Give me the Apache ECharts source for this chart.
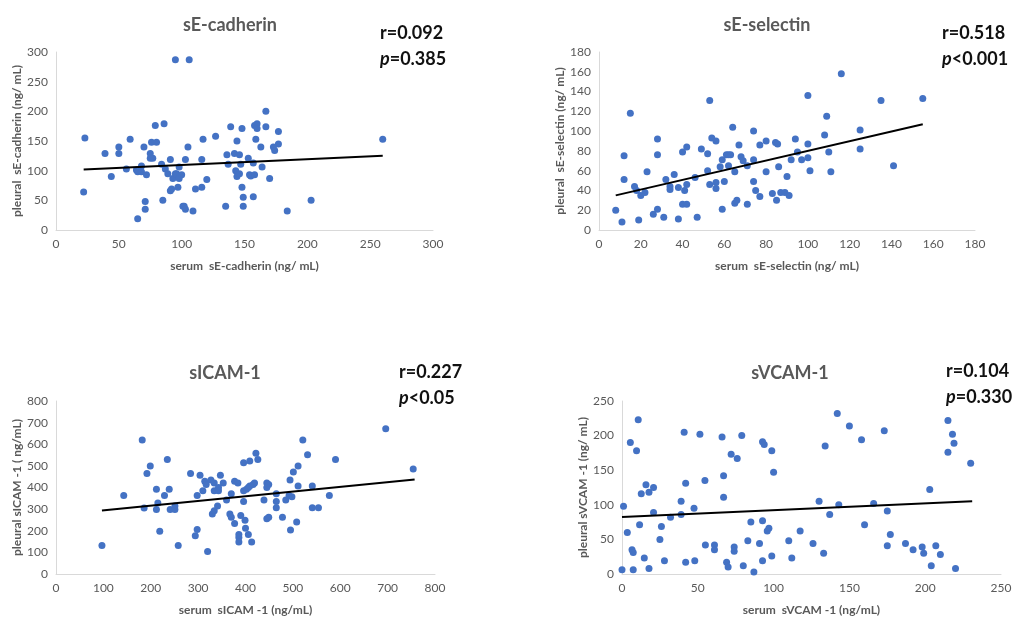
<!DOCTYPE html>
<html>
<head>
<meta charset="utf-8">
<style>
  html, body { margin: 0; padding: 0; background: #fff; }
  #chart { width: 1015px; height: 617px; }
</style>
<script src="https://cdn.jsdelivr.net/npm/echarts@6/dist/echarts.min.js"></script>
</head>
<body>
<div id="chart"></div>
<script>
// sE-cadherin (serum x, pleural y)
const cadherinSerum = [22,23,39,44,50,50,56,59,64,65,65,68,68,70,71,71,72,75,75,77,76,80,79,86,84,85,87,89,91,91,92,93,95,95,96,97,98,98,100,101,102,103,103,105,106,109,111,116,116,117,120,127,135,136,137,139,142,143,144,144,146,146,147,148,148,149,149,167,158,160,160,167,177,177,173,174,159,163,153,157,164,154,155,158,170,157,184,203,260]
const cadherinPleural = [64,155,129,90,140,129,103,153,101,98,19,108,98,140,48,35,93,129,121,121,148,148,176,179,111,50,103,95,119,66,69,87,287,95,95,72,106,87,93,40,40,35,119,140,287,32,69,119,72,153,85,158,40,127,111,174,129,100,150,90,127,95,111,171,72,55,40,200,176,179,171,174,166,145,140,134,153,140,121,113,106,93,91,93,87,56,32,50,153]
const cadherinTrend = [[22,102],[260,125]]

// sE-selectin
const selectinSerum = [8,11,12,12,15,17,18,19,20,22,23,26,28,28,28,31,32,34,34,36,38,38,40,40,42,41,42,42,46,47,49,52,52,53,53,54,56,56,56,58,59,59,60,61,62,63,62,64,65,65,66,67,68,69,71,71,74,74,74,75,77,77,80,80,83,84.5,85.5,85,86,87,89,91,90,94,95,92,97,100,100,101,100,108,109,110,111,116,125,125,135,141,155]
const selectinPleural = [20,8,75,51,118,44,40,10,35,38,59,16,21,76,92,13,51,44,41,56,43,11,79,26,26,40,84,46,53,13,82,77,60,131,46,93,90,48,42,64,21,71,49,76,76,76,65,104,59,27,30,86,74,70,65,26,49,100,71,40,34,86,90,59,37,88.5,87,30,64,38,38,35,54,92,79,71,71,87,73,60,136,96,115,79,59,158,101,82,131,65,133]
const selectinTrend = [[8,35],[155,107]]

// sICAM-1
const icamSerum = [97,143,182,186,192,199,212,212,215,219,229,235,239,241,251,251,258,284,294,298,298,304,310,314,317,320,327,330,334,334,334,341,343,343,347,353,360,367,370,370,377,384,377,386,386,386,390,396,396,396,399,400,409,422,426,419,416,402,406,409,406,413,439,445,449,445,465,465,465,445,449,478,485,492,498,495,508,494,501,511,511,521,531,541,541,554,577,590,696,754]
const icamPleural = [132,363,620,305,465,500,392,298,328,198,363,529,392,298,314,298,132,465,177,206,363,457,385,429,414,104,435,277,292,421,385,314,400,385,457,421,342,277,263,371,429,421,234,183,169,148,271,515,385,335,249,212,522,558,529,421,414,392,400,407,183,148,342,421,414,400,371,335,306,255,263,263,342,363,357,204,241,435,472,500,407,620,551,407,306,306,363,529,672,486]
const icamTrend = [[97,294],[757,437]]

// sVCAM-1
const vcamSerum = [0,1,3.5,5.5,6.6,7.4,7.4,9.6,10.7,11.6,12.7,15.8,14.7,17.8,17.8,20.8,20.8,25,26,28,32,39,39,41,42,42,48,47.5,51.4,54.7,55,61,61,66,67,67,69,70,72,74,74,76,79,80,83,85,87,90.7,92.7,93.8,92.7,92.7,95.8,96.9,98.8,100,98.8,110,112,117.5,126,130,133,134,137,142,143,150,158,160,166,173,175,175,177,187,192,198,199,203,204,207,210,215,215,218,219,220,230]
const vcamPleural = [6,98,60,190,35,31,6,178,223,71,116,129,23,118,8,125,89,50,68.5,19,82,105,86,205,131,17,19,95,202,135,42,42,35,198,142,111,17,10,173,39,33,167,200,12,48,75,3,44,191,187,77,19,62,66,178,147,26,48,23,62,44,105,30,185,86,232,100,214,194,71,102,207,91,41,57,44,35,39,30,122,12,41,28,222,176,202,189,8,160]
const vcamTrend = [[0,82.5],[231,105]]

const titles = ['sE-cadherin', 'sE-selectin', 'sICAM-1', 'sVCAM-1']
const rValues = ['r=0.092', 'r=0.518', 'r=0.227', 'r=0.104']
const pValues = ['=0.385', '<0.001', '<0.05', '=0.330']
const xNames = ['serum  sE-cadherin (ng/ mL)', 'serum  sE-selectin (ng/ mL)', 'serum  sICAM -1 (ng/mL)', 'serum  sVCAM -1 (ng/mL)']
const yNames = ['pleural  sE-cadherin (ng/ mL)', 'pleural  sE-selectin (ng/ mL)', 'pleural sICAM -1 ( ng/mL)', 'pleural sVCAM -1 (ng/ mL)']
const axisMax = [300, 180, 800, 250]
const axisStep = [50, 20, 100, 50]

const panels = [
  [cadherinSerum, cadherinPleural, cadherinTrend],
  [selectinSerum, selectinPleural, selectinTrend],
  [icamSerum, icamPleural, icamTrend],
  [vcamSerum, vcamPleural, vcamTrend]
]

const FONT = 'Lato, "Open Sans", sans-serif'
const grids = [
  { left: 56, top: 52, width: 377, height: 178 },
  { left: 599, top: 52, width: 376, height: 178 },
  { left: 56, top: 401, width: 379, height: 173 },
  { left: 622, top: 401, width: 379, height: 173 }
]
const titlePos = [[230, 16], [767, 16], [225, 364], [790, 364]]
const notePos = [[380, 20], [942, 20], [399, 359], [946, 358]]

const chart = echarts.init(document.getElementById('chart'))

const title = []
titles.forEach((t, i) => {
  title.push({
    text: t, left: titlePos[i][0], top: titlePos[i][1], textAlign: 'center', padding: 0,
    textStyle: { fontFamily: FONT, fontSize: 18, fontWeight: 'bold', color: '#595959' }
  })
  title.push({
    text: '{b|' + rValues[i] + '}\n{i|p}{b|' + pValues[i] + '}',
    left: notePos[i][0], top: notePos[i][1], padding: 0,
    textStyle: {
      rich: {
        b: { fontFamily: FONT, fontSize: 18, fontWeight: 'bold', color: '#111', lineHeight: 26 },
        i: { fontFamily: FONT, fontSize: 18, fontWeight: 'bold', fontStyle: 'italic', color: '#111', lineHeight: 26 }
      }
    }
  })
})

const axisCommon = {
  type: 'value', min: 0, nameLocation: 'middle',
  axisLine: { show: true, lineStyle: { color: '#d9d9d9', width: 1 } },
  axisTick: { show: false },
  splitLine: { show: false },
  axisLabel: { fontFamily: FONT, fontSize: 12, color: '#595959' },
  nameTextStyle: { fontFamily: FONT, fontSize: 12, fontWeight: 'bold', color: '#595959' }
}

const xAxis = [], yAxis = [], series = []
panels.forEach((p, i) => {
  xAxis.push(Object.assign({}, axisCommon, {
    gridIndex: i, max: axisMax[i], interval: axisStep[i], name: xNames[i], nameGap: 30
  }))
  yAxis.push(Object.assign({}, axisCommon, {
    gridIndex: i, max: axisMax[i], interval: axisStep[i], name: yNames[i], nameGap: 33
  }))
  series.push({
    type: 'scatter', xAxisIndex: i, yAxisIndex: i, symbolSize: 7,
    itemStyle: { color: '#4472c4', opacity: 1 },
    data: p[0].map((x, k) => [x, p[1][k]])
  })
  series.push({
    type: 'line', xAxisIndex: i, yAxisIndex: i, symbol: 'none',
    lineStyle: { color: '#000', width: 2 },
    data: p[2]
  })
})

chart.setOption({
  animation: false,
  backgroundColor: '#fff',
  title: title,
  grid: grids,
  xAxis: xAxis,
  yAxis: yAxis,
  series: series
})
</script>
</body>
</html>
